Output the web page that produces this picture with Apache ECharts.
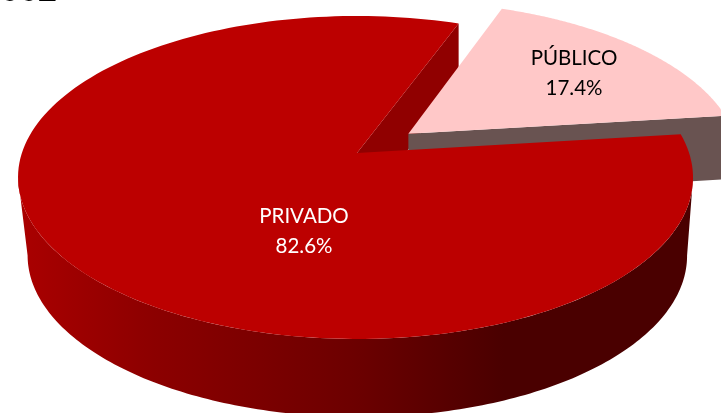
<!DOCTYPE html>
<html><head><meta charset="utf-8">
<style>html,body{margin:0;padding:0;background:#fff}#c{width:721px;height:413px}</style>
<script src="https://cdn.jsdelivr.net/npm/echarts@6/dist/echarts.min.js"></script>
</head><body><div id="c"></div>
<script>
var categories = ['PRIVADO', 'PÚBLICO'];
var shares = [82.6, 17.4];
var titleText = '002';

var chart = echarts.init(document.getElementById('c'), null, {renderer: 'canvas'});

// Perspective model of a tilted disc
var P = 0.1517, A = 157.8, B = 333.6, CX = 355.5, CY = 153;
var DEPTH = 66, FRONT_DEPTH = 78, BOTTOM_SCALE = 0.977, BOTTOM_CX = 357.3;
var END_ANGLE = 69.6;           // where the exploded slice starts (deg, ccw from east)
var EXPLODE = 0.2;
var FRONT_L = 188.7, FRONT_R = 351.3;  // where the rim's silhouette meets the top face
var total = shares[0] + shares[1];

// mode: 0 top face, 1 front rim's lower edge, 2 cut walls' lower edge
function project(u, v, mode) {
  var w = 1 + P * v;
  var x = CX + B * u / w + 1.5 * Math.max(0, 1 - u * u), y = CY - A * v / w;
  if (mode === 1) { x = BOTTOM_CX + (x - CX) * BOTTOM_SCALE; y += FRONT_DEPTH; }
  if (mode === 2) { y += DEPTH / w; }
  return [x, y];
}
function arcPts(a0, a1, ox, oy, mode) {
  var pts = [], n = 180;
  for (var i = 0; i <= n; i++) {
    var a = (a0 + (a1 - a0) * i / n) * Math.PI / 180;
    pts.push(project(ox + Math.cos(a), oy + Math.sin(a), mode));
  }
  return pts;
}
function poly(points, fill, z) {
  return {type: 'polygon', z2: z, shape: {points: points}, style: {fill: fill}, silent: true};
}
function label(lines, x, y, color) {
  return {type: 'text', z2: 50, silent: true, style: {
    text: lines, x: x, y: y, align: 'center', verticalAlign: 'middle',
    fill: color, font: '20.5px Lato', lineHeight: 30
  }};
}

function renderItem(params, api) {
  if (params.dataIndex !== 0) return null;
  var pub = api.value(1, 1) / total * 360;
  var a1 = END_ANGLE, a0 = a1 - pub;           // public slice a0..a1
  var mid = (a0 + a1) / 2 * Math.PI / 180;
  var ox = EXPLODE * Math.cos(mid), oy = EXPLODE * Math.sin(mid);

  var side = new echarts.graphic.LinearGradient(0, 0, 1, 0, [
    {offset: 0, color: '#aa0000'},
    {offset: 0.2, color: '#8c0000'},
    {offset: 0.5, color: '#6c0000'},
    {offset: 0.72, color: '#4a0000'},
    {offset: 1, color: '#4a0000'}
  ]);
  var kids = [];

  // Private slice: cut wall along its far edge
  var ac = Math.cos(a1 * Math.PI / 180), as = Math.sin(a1 * Math.PI / 180);
  var c0 = project(0, 0, 0), c0l = project(0, 0, 2);
  kids.push(poly([c0, project(ac, as, 0), project(ac, as, 2), c0l], '#900000', 1));

  // Public slice: wall along its near edge, rim, top
  var p0 = project(ox, oy, 0), p0l = project(ox, oy, 2);
  var rimT = arcPts(a0, a1, ox, oy, 0);
  var rimL = arcPts(a0, a1, ox, oy, 2);
  kids.push(poly([p0, rimT[0], rimL[0], p0l], '#695351', 2));
  kids.push(poly([p0].concat(rimT), '#ffc8c8', 3));

  // Private slice: front rim between the silhouette points, then top
  var t = arcPts(FRONT_L, FRONT_R, 0, 0, 0);
  var l = arcPts(FRONT_L, FRONT_R, 0, 0, 1);
  kids.push({type: 'polygon', z2: 4, silent: true, shape: {points: t.concat(l.slice().reverse())}, style: {fill: side}});
  kids.push(poly([c0].concat(arcPts(a1, a0 + 360, 0, 0, 0)), '#bc0000', 5));

  kids.push(label(categories[0] + '\n' + api.value(1, 0).toFixed(1) + '%', 304, 231, '#ffffff'));
  kids.push(label(categories[1] + '\n' + api.value(1, 1).toFixed(1) + '%', 574, 73, '#000000'));
  kids.push({type: 'text', z2: 60, silent: true, style: {
    text: titleText, x: 57, y: 9, align: 'right', verticalAlign: 'bottom',
    fill: '#000000', font: 'bold 34px "Liberation Sans"'
  }});
  return {type: 'group', children: kids};
}

chart.setOption({
  animation: false,
  backgroundColor: '#ffffff',
  series: [{
    type: 'custom',
    coordinateSystem: 'none',
    renderItem: renderItem,
    encode: {value: 1},
    data: categories.map(function (c, i) { return [i, shares[i]]; })
  }]
});
</script></body></html>
